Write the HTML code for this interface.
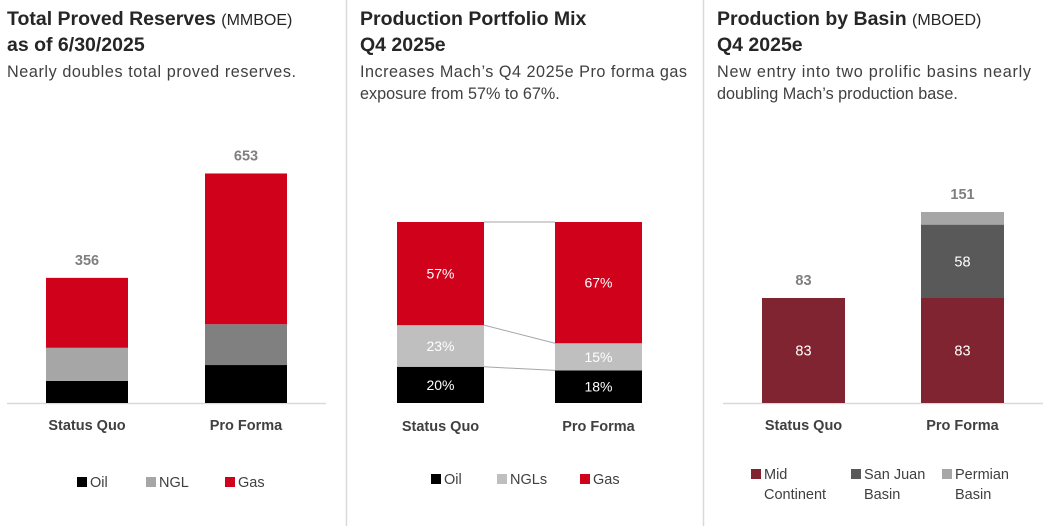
<!DOCTYPE html>
<html><head><meta charset="utf-8"><style>
body{margin:0;background:#fff;width:1048px;height:526px;overflow:hidden;font-family:"Liberation Sans",sans-serif}
svg text{font-family:"Liberation Sans",sans-serif}
</style></head><body>
<svg id="s" width="1048" height="526" viewBox="0 0 1048 526">
<line x1="346.5" y1="0" x2="346.5" y2="526" stroke="#d9d9d9" stroke-width="1.5"/>
<line x1="703.5" y1="0" x2="703.5" y2="526" stroke="#d9d9d9" stroke-width="1.5"/>
<g fill="#262626" font-weight="bold" font-size="19.5">
<text x="7" y="25">Total Proved Reserves <tspan font-weight="normal" font-size="16">(MMBOE)</tspan></text>
<text x="7" y="51">as of 6/30/2025</text>
<text x="360" y="25">Production Portfolio Mix</text>
<text x="360" y="51">Q4 2025e</text>
<text x="717" y="25">Production by Basin <tspan font-weight="normal" font-size="16">(MBOED)</tspan></text>
<text x="717" y="51">Q4 2025e</text>
</g>
<g fill="#404040" font-size="16.2">
<text x="7" y="77" textLength="289">Nearly doubles total proved reserves.</text>
<text x="360" y="77" textLength="327">Increases Mach’s Q4 2025e Pro forma gas</text>
<text x="360" y="99">exposure from 57% to 67%.</text>
<text x="717" y="77" textLength="314">New entry into two prolific basins nearly</text>
<text x="717" y="99">doubling Mach’s production base.</text>
</g>
<g id="g1"></g><g id="g2"></g><g id="g3"></g>
</svg>
<script>
// Chart 1: reserves (MMBOE)
const resCats = ["Status Quo", "Pro Forma"];
const resOil = [63, 108];
const resNgl = [94, 116];
const resGas = [199, 429];
const resTotals = ["356", "653"];
// Chart 2: mix (%)
const mixCats = ["Status Quo", "Pro Forma"];
const mixOil = [20, 18];
const mixNgl = [23, 15];
const mixGas = [57, 67];
// Chart 3: basin (MBOED)
const basCats = ["Status Quo", "Pro Forma"];
const basMid = [83, 83];
const basSanJuan = [0, 58];
const basPermian = [0, 10];
const basTotals = ["83", "151"];

const NS = "http://www.w3.org/2000/svg";
function mk(parent, tag, attrs, txt) {
  const e = document.createElementNS(NS, tag);
  for (const k in attrs) e.setAttribute(k, attrs[k]);
  if (txt !== undefined) e.textContent = txt;
  parent.appendChild(e);
  return e;
}
const base = 403;

// ---- Chart 1
(function () {
  const g = document.getElementById("g1");
  const y = v => base - v * 0.3515;
  const xs = [46, 205], w = 82;
  const ax = mk(g, "line", {x1: 7, x2: 326, y1: base + 0.5, y2: base + 0.5, stroke: "#d9d9d9", "stroke-width": 1.5});
  
  
  const ngCols = ["#a6a6a6", "#808080"];
  resCats.forEach((c, i) => {
    let acc = 0;
    [[resOil[i], "#000000", "oil"], [resNgl[i], ngCols[i], "ngl"], [resGas[i], "#d0021b", "gas"]].forEach(([v, col, n]) => {
      const r = mk(g, "rect", {x: xs[i], y: y(acc + v), width: w, height: y(acc) - y(acc + v), fill: col});
      
      
      acc += v;
    });
    const t = mk(g, "text", {x: xs[i] + w / 2, y: y(acc) - 13, "text-anchor": "middle", "font-size": 14.5, "font-weight": "bold", fill: "#7f7f7f"}, resTotals[i]);
    
    
    const l = mk(g, "text", {x: xs[i] + w / 2, y: 430, "text-anchor": "middle", "font-size": 14.5, "font-weight": "bold", fill: "#404040"}, c);
    
    
  });
  [["Oil", "#000", 77], ["NGL", "#a6a6a6", 146], ["Gas", "#d0021b", 225]].forEach(([n, col, x]) => {
    const r = mk(g, "rect", {x: x, y: 477, width: 10, height: 10, fill: col});
    
    
    const t = mk(g, "text", {x: x + 13, y: 487, "font-size": 14.5, fill: "#404040"}, n);
    
    
  });
})();

// ---- Chart 2
(function () {
  const g = document.getElementById("g2");
  const H = 181;
  const y = v => base - v * H / 100;
  const xs = [397, 555], w = 87;
  const tops = [];
  mixCats.forEach((c, i) => {
    let acc = 0; const b = [];
    [[mixOil[i], "#000000", "oil"], [mixNgl[i], "#bfbfbf", "ngl"], [mixGas[i], "#d0021b", "gas"]].forEach(([v, col, n]) => {
      const r = mk(g, "rect", {x: xs[i], y: y(acc + v), width: w, height: y(acc) - y(acc + v), fill: col});
      
      
      const t = mk(g, "text", {x: xs[i] + w / 2, y: (y(acc) + y(acc + v)) / 2 + 5, "text-anchor": "middle", "font-size": 14, fill: "#fff"}, v + "%");
      
      
      acc += v; b.push(y(acc));
    });
    tops.push(b);
  });
  for (let k = 0; k < 3; k++) {
    const ln = mk(g, "line", {x1: xs[0] + w, y1: tops[0][k], x2: xs[1], y2: tops[1][k], stroke: "#a6a6a6", "stroke-width": 1});
    
    
  }
  mixCats.forEach((c, i) => {
    const l = mk(g, "text", {x: xs[i] + w / 2, y: 431, "text-anchor": "middle", "font-size": 14.5, "font-weight": "bold", fill: "#404040"}, c);
    
    
  });
  [["Oil", "#000", 431], ["NGLs", "#bfbfbf", 497], ["Gas", "#d0021b", 580]].forEach(([n, col, x]) => {
    const r = mk(g, "rect", {x: x, y: 474, width: 10, height: 10, fill: col});
    
    
    const t = mk(g, "text", {x: x + 13, y: 484, "font-size": 14.5, fill: "#404040"}, n);
    
    
  });
})();

// ---- Chart 3
(function () {
  const g = document.getElementById("g3");
  const y = v => base - v * 1.265;
  const xs = [762, 921], w = 83;
  const ax = mk(g, "line", {x1: 723, x2: 1043, y1: base + 0.5, y2: base + 0.5, stroke: "#d9d9d9", "stroke-width": 1.5});
  
  
  basCats.forEach((c, i) => {
    let acc = 0;
    [[basMid[i], "#7f2430", "mid", true], [basSanJuan[i], "#595959", "sanjuan", true], [basPermian[i], "#a6a6a6", "permian", false]].forEach(([v, col, n, lab]) => {
      if (v <= 0) return;
      const r = mk(g, "rect", {x: xs[i], y: y(acc + v), width: w, height: y(acc) - y(acc + v), fill: col});
      
      
      if (lab) {
        const t = mk(g, "text", {x: xs[i] + w / 2, y: (y(acc) + y(acc + v)) / 2 + 5, "text-anchor": "middle", "font-size": 14.5, fill: "#fff"}, String(v));
        
        
      }
      acc += v;
    });
    const t = mk(g, "text", {x: xs[i] + w / 2, y: y(acc) - 13, "text-anchor": "middle", "font-size": 14.5, "font-weight": "bold", fill: "#7f7f7f"}, basTotals[i]);
    
    
    const l = mk(g, "text", {x: xs[i] + w / 2, y: 430, "text-anchor": "middle", "font-size": 14.5, "font-weight": "bold", fill: "#404040"}, c);
    
    
  });
  [["Mid", "Continent", "#7f2430", 751], ["San Juan", "Basin", "#595959", 851], ["Permian", "Basin", "#a6a6a6", 942]].forEach(([a, b, col, x]) => {
    const r = mk(g, "rect", {x: x, y: 469, width: 10, height: 10, fill: col});
    
    
    const t = mk(g, "text", {x: x + 13, y: 479, "font-size": 14.5, fill: "#404040"}, a);
    
    
    const t2 = mk(g, "text", {x: x + 13, y: 499, "font-size": 14.5, fill: "#404040"}, b);
    
    
  });
})();
</script>
</body></html>
